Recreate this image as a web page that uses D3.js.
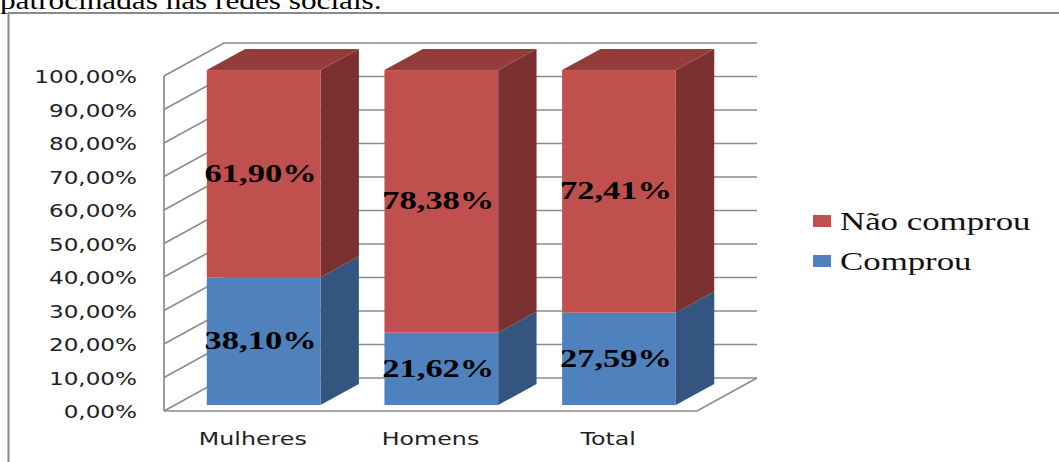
<!DOCTYPE html>
<html>
<head>
<meta charset="utf-8">
<script src="https://cdn.jsdelivr.net/npm/d3@7"></script>
<style>
  html, body { margin: 0; padding: 0; background: #fff; }
  svg { display: block; }
</style>
</head>
<body>
<svg id="chart" width="1059" height="462"></svg>
<script>
// Data
const categories = ["Mulheres", "Homens", "Total"];
const seriesNames = ["Comprou", "Não comprou"];
const comprou = [38.10, 21.62, 27.59];
const naoComprou = [61.90, 78.38, 72.41];
const yTickValues = [0, 10, 20, 30, 40, 50, 60, 70, 80, 90, 100];

const rows = categories.map((c, i) => ({ cat: c, "Comprou": comprou[i], "Não comprou": naoComprou[i] }));

const colors = {
  "Comprou":     { front: "#4F81BD", side: "#34557F", top: "#3F6796" },
  "Não comprou": { front: "#C0504D", side: "#7B3130", top: "#933C3A" }
};

const ptBR = d3.formatLocale({ decimal: ",", thousands: ".", grouping: [3], currency: ["R$", ""] });
const pct = v => ptBR.format(".2%")(v / 100);

const svg = d3.select("#chart");
const W = 1059, H = 462;
const textStretch = 1.32;

// Oblique 3D projection: depth vector of the plot box
const DX = 60, DY = -33;
const barDepth0 = 0.18, barDepth1 = 0.82;

const x = d3.scaleBand().domain(categories).range([164, 697]).paddingInner(0.36).paddingOuter(0.18);
const y = d3.scaleLinear().domain([0, 100]).range([411, 76]);

const P = (px, v, f) => [px + f * DX, y(v) + f * DY];
const grid = "#8c8c8c";

// Document text above the chart frame
svg.append("text")
  .attr("transform", `translate(0,9) scale(1.25,1)`)
  .attr("font-family", "Liberation Serif, Times New Roman, serif")
  .attr("font-size", 25)
  .attr("fill", "#000")
  .text("patrocinadas nas redes sociais.");

// Chart frame
svg.append("path")
  .attr("d", `M8.5,${H} L8.5,13 L${W},13`)
  .attr("fill", "none").attr("stroke", "#8a8a8a").attr("stroke-width", 2);

const walls = svg.append("g").attr("stroke", grid).attr("stroke-width", 1.7).attr("fill", "none");
const [xl, xr] = x.range();

// Side wall and back wall gridlines
yTickValues.forEach(t => {
  const a = P(xl, t, 0), b = P(xl, t, 1), c = P(xr, t, 1);
  walls.append("path").attr("d", `M${a} L${b} L${c}`);
});
// Front edge of side wall
walls.append("line")
  .attr("x1", xl).attr("x2", xl).attr("y1", y(100)).attr("y2", y(0));
// Floor outline
{
  const a = P(xl, 0, 0), b = P(xr, 0, 0), c = P(xr, 0, 1);
  walls.append("path").attr("d", `M${a} L${b} L${c}`);
}

// Y axis labels
svg.append("g").selectAll("text").data(yTickValues).join("text")
  .attr("transform", d => `translate(137,${y(d) + 7}) scale(${textStretch},1)`)
  .attr("text-anchor", "end")
  .attr("font-family", "DejaVu Sans, Verdana, sans-serif")
  .attr("font-size", 17.5)
  .attr("fill", "#222")
  .text(d => pct(d));

// Category labels
svg.append("g").selectAll("text").data(categories).join("text")
  .attr("transform", d => `translate(${x(d) + x.bandwidth() / 2},445) scale(${textStretch},1)`)
  .attr("text-anchor", "middle")
  .attr("font-family", "DejaVu Sans, Verdana, sans-serif")
  .attr("font-size", 18)
  .attr("fill", "#222")
  .text(d => d);

// Stacked 3D bars
const stacked = d3.stack().keys(seriesNames)(rows);
const bars = svg.append("g");
const poly = pts => "M" + pts.map(p => p.join(",")).join("L") + "Z";

categories.forEach((cat, i) => {
  const x0 = x(cat), x1 = x0 + x.bandwidth();
  stacked.forEach((layer, li) => {
    const [v0, v1] = layer[i];
    const col = colors[layer.key];
    // side face
    bars.append("path")
      .attr("d", poly([P(x1, v0, barDepth0), P(x1, v1, barDepth0), P(x1, v1, barDepth1), P(x1, v0, barDepth1)]))
      .attr("fill", col.side);
    // front face
    const fl = P(x0, v1, barDepth0), fr = P(x1, v0, barDepth0);
    bars.append("rect")
      .attr("x", fl[0]).attr("y", fl[1])
      .attr("width", fr[0] - fl[0]).attr("height", fr[1] - fl[1])
      .attr("fill", col.front);
    // top face on the topmost segment
    if (li === stacked.length - 1) {
      bars.append("path")
        .attr("d", poly([P(x0, v1, barDepth0), P(x1, v1, barDepth0), P(x1, v1, barDepth1), P(x0, v1, barDepth1)]))
        .attr("fill", col.top);
    }
  });
});

// Value labels centred on each front face
const labels = svg.append("g");
categories.forEach((cat, i) => {
  const cx = x(cat) + x.bandwidth() / 2 + barDepth0 * DX - 3;
  stacked.forEach(layer => {
    const [v0, v1] = layer[i];
    const cy = (y(v0) + y(v1)) / 2 + barDepth0 * DY;
    labels.append("text")
      .attr("transform", `translate(${cx},${cy + 8}) scale(1.38,1)`)
      .attr("text-anchor", "middle")
      .attr("font-family", "Liberation Serif, Times New Roman, serif")
      .attr("font-weight", "bold")
      .attr("font-size", 25)
      .attr("fill", "#000")
      .text(pct(v1 - v0));
  });
});

// Legend
const legendItems = [seriesNames[1], seriesNames[0]];
const legend = svg.append("g").selectAll("g").data(legendItems).join("g")
  .attr("transform", (d, i) => `translate(813,${215 + i * 40})`);
legend.append("rect")
  .attr("width", 18).attr("height", 12)
  .attr("fill", d => colors[d].front);
legend.append("text")
  .attr("transform", `translate(27,15) scale(1.34,1)`)
  .attr("font-family", "Liberation Serif, Times New Roman, serif")
  .attr("font-size", 26)
  .attr("fill", "#111")
  .text(d => d);
</script>
</body>
</html>
